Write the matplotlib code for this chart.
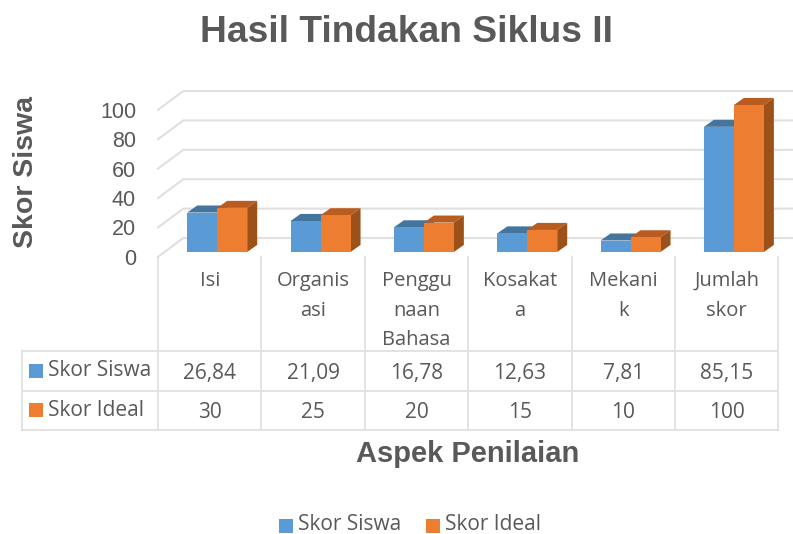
import matplotlib
matplotlib.use("Agg")
import matplotlib.pyplot as plt
from matplotlib.patches import Polygon, Rectangle

categories = ["Isi", "Organis\nasi", "Penggu\nnaan\nBahasa", "Kosakat\na", "Mekani\nk", "Jumlah\nskor"]
skor_siswa = [26.84, 21.09, 16.78, 12.63, 7.81, 85.15]
skor_ideal = [30, 25, 20, 15, 10, 100]
siswa_labels = ["26,84", "21,09", "16,78", "12,63", "7,81", "85,15"]
ideal_labels = ["30", "25", "20", "15", "10", "100"]
y_ticks = [0, 20, 40, 60, 80, 100]

BLUE = "#5B9BD5"
BLUE_TOP = "#44759F"
ORANGE = "#ED7D31"
ORANGE_TOP = "#BA5C20"
ORANGE_SIDE = "#9C5119"
GRID = "#E0E0E0"
TEXT = "#595959"
BODY_FONT = ["Open Sans", "DejaVu Sans"]
BOLD_FONT = ["Liberation Sans", "DejaVu Sans"]

W, H = 793, 534
fig = plt.figure(figsize=(W / 100, H / 100), dpi=100)

# overlay in pixel coordinates for the text and the data table
page = fig.add_axes([0, 0, 1, 1])
page.set_xlim(0, W)
page.set_ylim(H, 0)
page.axis("off")

# plot axes: x in category slots, y in chart units
ax = fig.add_axes([158 / W, (H - 252) / H, 620 / W, 147 / H])
ax.set_xlim(0, 6)
ax.set_ylim(0, 100)
ax.axis("off")

depth_x, depth_y = 0.097, 4.8
wall_x, wall_y = 0.245, 9.5
front_y = -3.3
grid_end = 6.145

for t in y_ticks:
    ax.plot([0, wall_x, grid_end], [t + front_y, t + wall_y, t + wall_y],
            color=GRID, lw=1.5, clip_on=False, zorder=1)
    ax.text(-0.212, t + front_y - 1.6, str(t), ha="right", va="center", fontsize=15.5,
            color=TEXT, family=BOLD_FONT[0], clip_on=False)


def draw_bar(x0, w, v, face, top, side):
    ax.add_patch(Polygon([(x0, v), (x0 + depth_x, v + depth_y),
                          (x0 + w + depth_x, v + depth_y), (x0 + w, v)],
                         facecolor=top, edgecolor="none", clip_on=False, zorder=3))
    ax.add_patch(Polygon([(x0 + w, 0), (x0 + w + depth_x, depth_y),
                          (x0 + w + depth_x, v + depth_y), (x0 + w, v)],
                         facecolor=side, edgecolor="none", clip_on=False, zorder=3))
    ax.add_patch(Rectangle((x0, 0), w, v, facecolor=face, edgecolor="none",
                           clip_on=False, zorder=4))


bar_w = 0.29
bar_off = 0.283
for i in range(len(categories)):
    draw_bar(i + bar_off, bar_w, skor_siswa[i], BLUE, BLUE_TOP, BLUE_TOP)
    draw_bar(i + bar_off + bar_w, bar_w, skor_ideal[i], ORANGE, ORANGE_TOP, ORANGE_SIDE)

# data table
col_edges = [158 + 103.4 * i for i in range(7)]
row_y = [351, 391, 430]
for x in col_edges:
    page.plot([x, x], [257, 430], color=GRID, lw=1.3)
page.plot([22, 22], [351, 430], color=GRID, lw=1.3)
for y in row_y:
    page.plot([22, col_edges[-1]], [y, y], color=GRID, lw=1.3)

for i in range(len(categories)):
    cx = (col_edges[i] + col_edges[i + 1]) / 2
    for j, line in enumerate(categories[i].split("\n")):
        page.text(cx, 281 + j * 29.5, line, ha="center", va="center", fontsize=14.5,
                  color=TEXT, family=BODY_FONT)
    page.text(cx, 373, siswa_labels[i], ha="center", va="center", fontsize=15,
              color=TEXT, family=BODY_FONT)
    page.text(cx, 412, ideal_labels[i], ha="center", va="center", fontsize=15,
              color=TEXT, family=BODY_FONT)

for y, name, c in [(371, "Skor Siswa", BLUE), (410, "Skor Ideal", ORANGE)]:
    page.add_patch(Rectangle((29, y - 7), 14, 14, facecolor=c, edgecolor="none"))
    page.text(48, y, name, ha="left", va="center", fontsize=15, color=TEXT,
              family=BODY_FONT)

# titles
page.text(406, 33, "Hasil Tindakan Siklus II", ha="center", va="center", fontsize=26.7,
          fontweight="bold", color=TEXT, family=BOLD_FONT)
page.text(26, 172, "Skor Siswa", ha="center", va="center", rotation=90, fontsize=20.5,
          fontweight="bold", color=TEXT, family=BOLD_FONT)
page.text(468, 454, "Aspek Penilaian", ha="center", va="center", fontsize=21,
          fontweight="bold", color=TEXT, family=BOLD_FONT)

# legend, kept just clear of the bottom edge
for x, tx, name, c in [(279, 298, "Skor Siswa", BLUE), (426, 445, "Skor Ideal", ORANGE)]:
    page.add_patch(Rectangle((x, 519), 14, 14, facecolor=c, edgecolor="none"))
    page.text(tx, 524, name, ha="left", va="center", fontsize=15, color=TEXT,
              family=BODY_FONT)

fig.savefig("out.png", dpi=100)
